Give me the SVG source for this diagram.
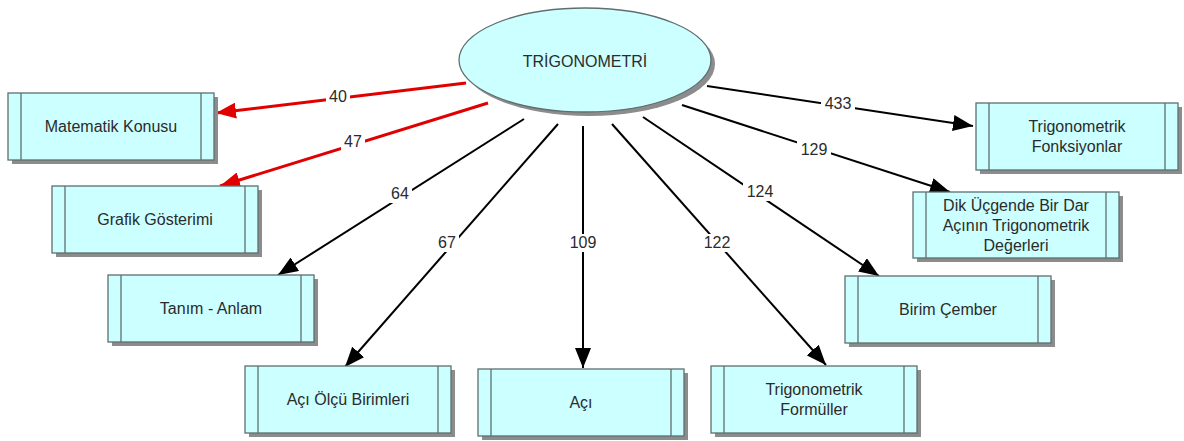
<svg xmlns="http://www.w3.org/2000/svg" width="1184" height="441" viewBox="0 0 1184 441">
<style>
.box{fill:#ccffff;stroke:#5f6f6f;stroke-width:1.3}
.sh{fill:#8c8c8c}
.bar{stroke:#5f6f6f;stroke-width:1.3}
.t{font-family:"Liberation Sans",Arial,sans-serif;font-size:16px;fill:#2b2b2b;text-anchor:middle}
.red{stroke:#e00000;stroke-width:3;fill:none}
.blk{stroke:#000;stroke-width:2;fill:none}
.lb{fill:#fff}
</style>
<defs>
<marker id="ar" markerUnits="userSpaceOnUse" markerWidth="22" markerHeight="16" refX="20" refY="8" orient="auto"><path d="M0,0 L20,8 L0,16 z" fill="#e00000"/></marker>
<marker id="ab" markerUnits="userSpaceOnUse" markerWidth="22" markerHeight="16" refX="20" refY="8" orient="auto"><path d="M0,0 L20,8 L0,16 z" fill="#000"/></marker>
</defs>
<g id="connectors">
<line class="red" x1="466" y1="83" x2="216" y2="113" marker-end="url(#ar)"/>
<line class="red" x1="488" y1="103" x2="220" y2="186" marker-end="url(#ar)"/>
<line class="blk" x1="524" y1="119" x2="278" y2="275" marker-end="url(#ab)"/>
<line class="blk" x1="558" y1="124" x2="345" y2="367" marker-end="url(#ab)"/>
<line class="blk" x1="583" y1="126" x2="583" y2="368" marker-end="url(#ab)"/>
<line class="blk" x1="612" y1="124" x2="826" y2="365" marker-end="url(#ab)"/>
<line class="blk" x1="643" y1="117" x2="879" y2="276" marker-end="url(#ab)"/>
<line class="blk" x1="682" y1="105" x2="950" y2="192" marker-end="url(#ab)"/>
<line class="blk" x1="707" y1="86" x2="973" y2="126" marker-end="url(#ab)"/>
<rect class="lb" x="326" y="88" width="24" height="18"/><text class="t" x="338" y="102">40</text>
<rect class="lb" x="341" y="133" width="24" height="18"/><text class="t" x="353" y="147">47</text>
<rect class="lb" x="388" y="185" width="24" height="18"/><text class="t" x="400" y="199">64</text>
<rect class="lb" x="435" y="234" width="24" height="18"/><text class="t" x="447" y="248">67</text>
<rect class="lb" x="566" y="234" width="34" height="18"/><text class="t" x="583" y="248">109</text>
<rect class="lb" x="700" y="234" width="34" height="18"/><text class="t" x="717" y="248">122</text>
<rect class="lb" x="743" y="183" width="34" height="18"/><text class="t" x="760" y="197">124</text>
<rect class="lb" x="797" y="141" width="34" height="18"/><text class="t" x="814" y="155">129</text>
<rect class="lb" x="821" y="95" width="34" height="18"/><text class="t" x="838" y="109">433</text>
</g>
<g id="n0">
<ellipse class="sh" cx="589" cy="64" rx="126" ry="52"/>
<ellipse class="box" cx="585" cy="60" rx="126" ry="52"/>
<text class="t" x="585" y="67">TRİGONOMETRİ</text>
</g>
<g id="n1">
<rect class="sh" x="12" y="97" width="206" height="67"/>
<rect class="box" x="8" y="93" width="206" height="67"/>
<line class="bar" x1="21" y1="93" x2="21" y2="160"/><line class="bar" x1="201" y1="93" x2="201" y2="160"/>
<text class="t" x="111" y="132">Matematik Konusu</text>
</g>
<g id="n2">
<rect class="sh" x="56" y="190" width="206" height="67"/>
<rect class="box" x="52" y="186" width="206" height="67"/>
<line class="bar" x1="65" y1="186" x2="65" y2="253"/><line class="bar" x1="245" y1="186" x2="245" y2="253"/>
<text class="t" x="155" y="225">Grafik Gösterimi</text>
</g>
<g id="n3">
<rect class="sh" x="112" y="279" width="206" height="67"/>
<rect class="box" x="108" y="275" width="206" height="67"/>
<line class="bar" x1="121" y1="275" x2="121" y2="342"/><line class="bar" x1="301" y1="275" x2="301" y2="342"/>
<text class="t" x="211" y="314">Tanım - Anlam</text>
</g>
<g id="n4">
<rect class="sh" x="249" y="370" width="206" height="67"/>
<rect class="box" x="245" y="366" width="206" height="67"/>
<line class="bar" x1="258" y1="366" x2="258" y2="433"/><line class="bar" x1="438" y1="366" x2="438" y2="433"/>
<text class="t" x="348" y="405">Açı Ölçü Birimleri</text>
</g>
<g id="n5">
<rect class="sh" x="482" y="373" width="206" height="67"/>
<rect class="box" x="478" y="369" width="206" height="67"/>
<line class="bar" x1="491" y1="369" x2="491" y2="436"/><line class="bar" x1="671" y1="369" x2="671" y2="436"/>
<text class="t" x="581" y="408">Açı</text>
</g>
<g id="n6">
<rect class="sh" x="715" y="370" width="206" height="67"/>
<rect class="box" x="711" y="366" width="206" height="67"/>
<line class="bar" x1="724" y1="366" x2="724" y2="433"/><line class="bar" x1="904" y1="366" x2="904" y2="433"/>
<text class="t" x="814" y="395">Trigonometrik</text>
<text class="t" x="814" y="415">Formüller</text>
</g>
<g id="n7">
<rect class="sh" x="849" y="280" width="206" height="67"/>
<rect class="box" x="845" y="276" width="206" height="67"/>
<line class="bar" x1="858" y1="276" x2="858" y2="343"/><line class="bar" x1="1038" y1="276" x2="1038" y2="343"/>
<text class="t" x="948" y="315">Birim Çember</text>
</g>
<g id="n8">
<rect class="sh" x="917" y="196" width="206" height="66"/>
<rect class="box" x="913" y="192" width="206" height="66"/>
<line class="bar" x1="926" y1="192" x2="926" y2="258"/><line class="bar" x1="1106" y1="192" x2="1106" y2="258"/>
<text class="t" x="1016" y="211">Dik Üçgende Bir Dar</text>
<text class="t" x="1016" y="231">Açının Trigonometrik</text>
<text class="t" x="1016" y="251">Değerleri</text>
</g>
<g id="n9">
<rect class="sh" x="980" y="107" width="202" height="67"/>
<rect class="box" x="976" y="103" width="202" height="67"/>
<line class="bar" x1="989" y1="103" x2="989" y2="170"/><line class="bar" x1="1165" y1="103" x2="1165" y2="170"/>
<text class="t" x="1077" y="132">Trigonometrik</text>
<text class="t" x="1077" y="152">Fonksiyonlar</text>
</g>
</svg>
